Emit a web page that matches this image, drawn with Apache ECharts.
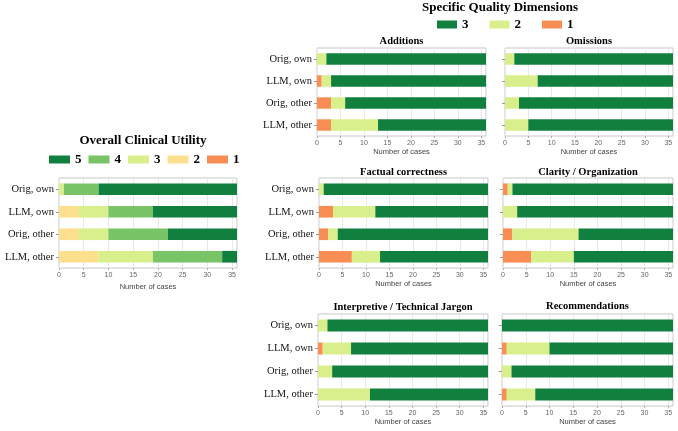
<!DOCTYPE html>
<html>
<head>
<meta charset="utf-8">
<script src="https://cdn.jsdelivr.net/npm/echarts@6/dist/echarts.min.js"></script>
<style>
html,body{margin:0;padding:0;background:#fff;}
#chart{width:678px;height:431px;}
</style>
</head>
<body>
<div id="chart"></div>
<script>
// ---- Data ----
const categories = ['Orig, own', 'LLM, own', 'Orig, other', 'LLM, other'];
const xTickValues = [0, 5, 10, 15, 20, 25, 30, 35];
const xMax = 36;

// Overall Clinical Utility (ratings 1..5)
const overall1 = [0, 0, 0, 0];
const overall2 = [0, 4, 4, 8];
const overall3 = [1, 6, 6, 11];
const overall4 = [7, 9, 12, 14];
const overall5 = [28, 17, 14, 3];

// Specific Quality Dimensions (ratings 1..3)
const additions1 = [0, 1, 3, 3];
const additions2 = [2, 2, 3, 10];
const additions3 = [34, 33, 30, 23];

const omissions1 = [0, 0, 0, 0];
const omissions2 = [2, 7, 3, 5];
const omissions3 = [34, 29, 33, 31];

const factual1 = [0, 3, 2, 7];
const factual2 = [1, 9, 2, 6];
const factual3 = [35, 24, 32, 23];

const clarity1 = [1, 0, 2, 6];
const clarity2 = [1, 3, 14, 9];
const clarity3 = [34, 33, 20, 21];

const jargon1 = [0, 1, 0, 0];
const jargon2 = [2, 6, 3, 11];
const jargon3 = [34, 29, 33, 25];

const recommendations1 = [0, 1, 0, 1];
const recommendations2 = [0, 9, 2, 6];
const recommendations3 = [36, 26, 34, 29];

// ---- Styles ----
const COLORS = {
  r5: '#117f3e', r4: '#78c466', r3: '#d9ef8b', r2: '#fde08e', r1: '#f98e55'
};
const SERIF = 'Liberation Serif';
const SANS = 'Liberation Sans';

const panels = [
  {title: 'Overall Clinical Utility', grid: {left: 59, top: 178, width: 178, height: 90}, titleY: null, showCats: true, nameGap: 15, overall: true,
   series: [['o1', overall1, COLORS.r1], ['o2', overall2, COLORS.r2], ['o3', overall3, COLORS.r3], ['o4', overall4, COLORS.r4], ['o5', overall5, COLORS.r5]]},
  {title: 'Additions', grid: {left: 317, top: 48, width: 169, height: 88}, titleY: 41, showCats: true, nameGap: 12,
   series: [['s1', additions1, COLORS.r1], ['s2', additions2, COLORS.r3], ['s3', additions3, COLORS.r5]]},
  {title: 'Omissions', grid: {left: 505, top: 48, width: 168, height: 88}, titleY: 41, showCats: false, nameGap: 12,
   series: [['s1', omissions1, COLORS.r1], ['s2', omissions2, COLORS.r3], ['s3', omissions3, COLORS.r5]]},
  {title: 'Factual correctness', grid: {left: 319, top: 178, width: 169, height: 90}, titleY: 172, showCats: true, nameGap: 12,
   series: [['s1', factual1, COLORS.r1], ['s2', factual2, COLORS.r3], ['s3', factual3, COLORS.r5]]},
  {title: 'Clarity / Organization', grid: {left: 503, top: 178, width: 170, height: 90}, titleY: 172, showCats: false, nameGap: 12,
   series: [['s1', clarity1, COLORS.r1], ['s2', clarity2, COLORS.r3], ['s3', clarity3, COLORS.r5]]},
  {title: 'Interpretive / Technical Jargon', grid: {left: 318, top: 314, width: 170, height: 92}, titleY: 307, showCats: true, nameGap: 12,
   series: [['s1', jargon1, COLORS.r1], ['s2', jargon2, COLORS.r3], ['s3', jargon3, COLORS.r5]]},
  {title: 'Recommendations', grid: {left: 502, top: 314, width: 171, height: 92}, titleY: 306, showCats: false, nameGap: 12,
   series: [['s1', recommendations1, COLORS.r1], ['s2', recommendations2, COLORS.r3], ['s3', recommendations3, COLORS.r5]]}
];

const grids = [], xAxes = [], yAxes = [], series = [];
const titles = [
  {text: 'Overall Clinical Utility', left: 143, top: 141, textAlign: 'center', textVerticalAlign: 'middle', padding: 0,
   textStyle: {fontFamily: SERIF, fontWeight: 'bold', fontSize: 13, color: '#000'}},
  {text: 'Specific Quality Dimensions', left: 500, top: 8, textAlign: 'center', textVerticalAlign: 'middle', padding: 0,
   textStyle: {fontFamily: SERIF, fontWeight: 'bold', fontSize: 13, color: '#000'}}
];

panels.forEach((p, i) => {
  grids.push(Object.assign({show: true, borderColor: '#c8c8c8', borderWidth: 1, backgroundColor: 'transparent', containLabel: false}, p.grid));
  xAxes.push({
    type: 'value', gridIndex: i, min: 0, max: xMax, interval: 5,
    name: 'Number of cases', nameLocation: 'middle', nameGap: p.nameGap,
    nameTextStyle: {fontFamily: SANS, fontSize: 7.5, color: '#444'},
    axisLine: {show: false},
    axisTick: {show: true, length: 2, lineStyle: {color: '#aaa'}},
    axisLabel: {fontFamily: SANS, fontSize: 7, color: '#666', margin: 4, showMaxLabel: false,
      formatter: v => (xTickValues.indexOf(v) >= 0 ? String(v) : '')},
    splitLine: {show: true, lineStyle: {color: '#e8e8e8', width: 1}}
  });
  yAxes.push({
    type: 'category', gridIndex: i, data: categories, inverse: true,
    axisLine: {show: false},
    axisTick: {show: true, length: 3, alignWithLabel: true, lineStyle: {color: '#999'}},
    axisLabel: {show: p.showCats, fontFamily: SERIF, fontSize: 10.5, color: '#111', margin: 5}
  });
  if (!p.overall) {
    titles.push({text: p.title, left: p.grid.left + p.grid.width / 2, top: p.titleY, textAlign: 'center', textVerticalAlign: 'middle', padding: 0,
      textStyle: {fontFamily: SERIF, fontWeight: 'bold', fontSize: 10.5, color: '#000'}});
  }
  p.series.forEach(([name, data, color]) => {
    series.push({
      type: 'bar', name: name, xAxisIndex: i, yAxisIndex: i, stack: 'g' + i,
      data: data, barWidth: '52%', itemStyle: {color: color}, emphasis: {disabled: true}
    });
  });
});

const legendText = {fontFamily: SERIF, fontWeight: 'bold', fontSize: 13, color: '#000'};
const option = {
  animation: false,
  backgroundColor: '#fff',
  title: titles,
  legend: [
    {data: ['o5', 'o4', 'o3', 'o2', 'o1'], left: 49, top: 153, padding: 0, itemWidth: 21, itemHeight: 8, itemGap: 7,
     icon: 'rect', formatter: n => n.slice(1), textStyle: legendText, selectedMode: false},
    {data: ['s3', 's2', 's1'], left: 437, top: 18, padding: 0, itemWidth: 20, itemHeight: 8, itemGap: 21,
     icon: 'rect', formatter: n => n.slice(1), textStyle: legendText, selectedMode: false}
  ],
  grid: grids,
  xAxis: xAxes,
  yAxis: yAxes,
  series: series
};

const chart = echarts.init(document.getElementById('chart'), null, {renderer: 'canvas'});
chart.setOption(option);
</script>
</body>
</html>
